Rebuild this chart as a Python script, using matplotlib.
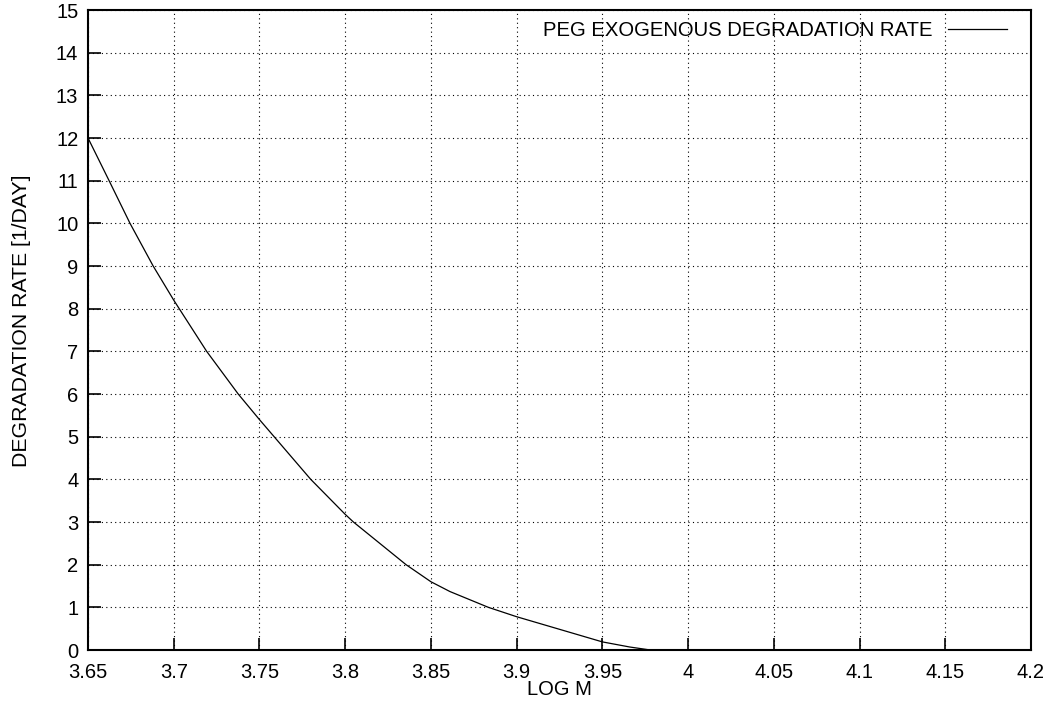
import numpy as np
import matplotlib.pyplot as plt

plt.rcParams['font.family'] = ['Liberation Sans', 'DejaVu Sans']

# values
log_m = [3.65, 3.6623, 3.6745, 3.688, 3.70, 3.7192, 3.7376, 3.75, 3.7799,
         3.80, 3.8048, 3.8355, 3.85, 3.8611, 3.8835, 3.90, 3.95, 3.966,
         3.978, 4.0, 4.2]
rate = [12.0, 11.0, 10.0, 9.0, 8.2, 7.0, 6.0, 5.4, 4.0,
        3.18, 3.0, 2.0, 1.6, 1.37, 1.0, 0.78, 0.19, 0.07,
        0.0, 0.0, 0.0]

xticks = [3.65, 3.7, 3.75, 3.8, 3.85, 3.9, 3.95, 4, 4.05, 4.1, 4.15, 4.2]
xtick_labels = ['3.65', '3.7', '3.75', '3.8', '3.85', '3.9', '3.95', '4',
                '4.05', '4.1', '4.15', '4.2']
yticks = list(range(0, 16))

fig = plt.figure(figsize=(10.49, 7.05), dpi=100)
ax = fig.add_axes([88/1049, 55/705, 943/1049, 640/705])

ax.plot(log_m, rate, color='black', lw=0.9, label='PEG EXOGENOUS DEGRADATION RATE')

ax.set_xlim(3.65, 4.2)
ax.set_ylim(0, 15)
ax.set_xticks(xticks)
ax.set_xticklabels(xtick_labels)
ax.set_yticks(yticks)
ax.tick_params(direction='in', length=9, width=1.2, labelsize=14.5, pad=7)
ax.tick_params(axis='x', pad=9)
ax.grid(True, color='black', linestyle=(0, (1, 3)), lw=0.8)
for s in ax.spines.values():
    s.set_linewidth(1.5)

ax.set_xlabel('LOG M', fontsize=14.5, labelpad=-1)
ax.set_ylabel('DEGRADATION RATE [1/DAY]', fontsize=15.3)
ax.yaxis.set_label_coords(-0.06, 0.515)

leg = ax.legend(loc='upper right', bbox_to_anchor=(0.986, 1.0), frameon=False,
                markerfirst=False, fontsize=14.6, handlelength=2.9,
                handletextpad=0.75, borderaxespad=0, borderpad=0.55)

plt.savefig('out.png', dpi=100)
